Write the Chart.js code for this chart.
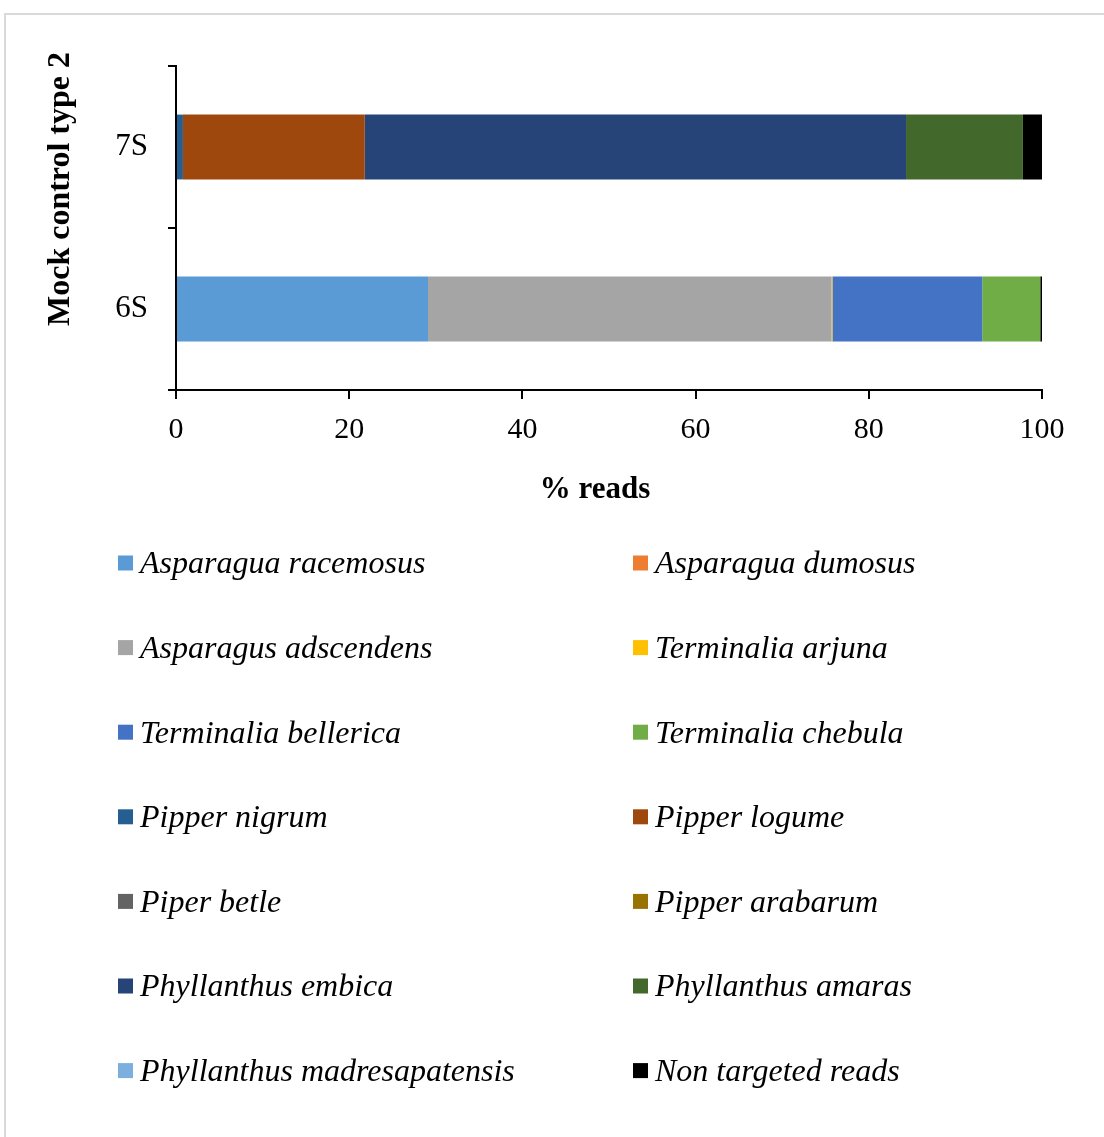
<!DOCTYPE html>
<html>
<head>
<meta charset="utf-8">
<script src="https://cdn.jsdelivr.net/npm/chart.js@4.4.1/dist/chart.umd.min.js"></script>
<style>
  html, body { margin: 0; padding: 0; background: #fff; }
  #wrap { position: relative; width: 1104px; height: 1137px; overflow: hidden; }
  #frame { position: absolute; left: 4px; top: 13px; width: 1200px; height: 1200px;
           border-left: 2px solid #d9d9d9; border-top: 2px solid #d9d9d9; box-sizing: border-box; }
  canvas { position: absolute; left: 0; top: 0; }
</style>
</head>
<body>
<div id="wrap">
  <div id="frame"></div>
  <canvas id="chart" width="1104" height="1137"></canvas>
</div>
<script>
// Samples (top to bottom)
const samples = ['7S', '6S'];

// Species in legend order, with their colours
const speciesNames = [
  'Asparagua racemosus', 'Asparagua dumosus',
  'Asparagus adscendens', 'Terminalia arjuna',
  'Terminalia bellerica', 'Terminalia chebula',
  'Pipper nigrum', 'Pipper logume',
  'Piper betle', 'Pipper arabarum',
  'Phyllanthus embica', 'Phyllanthus amaras',
  'Phyllanthus madresapatensis', 'Non targeted reads'
];
const speciesColors = [
  '#5B9BD5', '#ED7D31',
  '#A5A5A5', '#FFC000',
  '#4472C4', '#70AD47',
  '#255E91', '#9E480E',
  '#636363', '#997300',
  '#264478', '#43682B',
  '#7CAFDD', '#000000'
];

// % reads per species for each sample
const reads7S = [0, 0, 0, 0, 0, 0, 0.8, 21.0, 0, 0, 62.5, 13.5, 0, 2.2];
const reads6S = [29.1, 0, 46.6, 0.1, 17.3, 6.7, 0, 0, 0, 0, 0, 0, 0, 0.2];

const xTicks = [0, 20, 40, 60, 80, 100];
const yTitle = 'Mock control type 2';
const xTitle = '% reads';

const SERIF = '"Liberation Serif", "Times New Roman", serif';

const datasets = speciesNames.map((name, i) => ({
  label: name,
  data: [reads7S[i], reads6S[i]],
  backgroundColor: speciesColors[i],
  borderWidth: 0,
  barPercentage: 1.0,
  categoryPercentage: 0.4
}));

// Axis titles and two-column legend drawn on the canvas
const decorations = {
  id: 'decorations',
  afterDraw(chart) {
    const ctx = chart.ctx;
    ctx.save();
    ctx.fillStyle = '#000';
    // y title
    ctx.font = 'bold 32px ' + SERIF;
    ctx.textAlign = 'center';
    ctx.textBaseline = 'middle';
    ctx.save();
    ctx.translate(61, 189);
    ctx.rotate(-Math.PI / 2);
    ctx.fillText(yTitle, 0, 0);
    ctx.restore();
    // x title
    ctx.font = 'bold 31px ' + SERIF;
    ctx.fillText(xTitle, 595, 490);

    // legend
    ctx.font = 'italic 32px ' + SERIF;
    ctx.textAlign = 'left';
    const colX = [118, 633];
    const rowY0 = 563, rowStep = 84.6;
    chart.data.datasets.forEach((ds, i) => {
      const col = i % 2, row = Math.floor(i / 2);
      const x = colX[col], y = rowY0 + row * rowStep;
      ctx.fillStyle = ds.backgroundColor;
      ctx.fillRect(x, y - 7.5, 15, 15);
      ctx.fillStyle = '#000';
      ctx.fillText(ds.label, x + 22, y + 2);
    });
    ctx.restore();
  }
};

new Chart(document.getElementById('chart'), {
  type: 'bar',
  data: { labels: samples, datasets },
  options: {
    indexAxis: 'y',
    responsive: false,
    animation: false,
    devicePixelRatio: 1,
    layout: { padding: { top: 66, left: 0, right: 62, bottom: 687 } },
    plugins: { legend: { display: false }, tooltip: { enabled: false } },
    scales: {
      x: {
        stacked: true,
        min: 0, max: 100,
        afterBuildTicks: s => { s.ticks = xTicks.map(v => ({ value: v })); },
        afterFit: s => { s.height = 60; },
        grid: { drawOnChartArea: false, drawTicks: true, tickLength: 9, color: '#000', lineWidth: 2 },
        border: { display: true, color: '#000', width: 2 },
        ticks: { color: '#000', font: { family: SERIF, size: 30 }, padding: 13, maxRotation: 0 }
      },
      y: {
        stacked: true,
        afterFit: s => { s.width = 176; },
        grid: { drawOnChartArea: false, drawTicks: true, tickLength: 8, color: '#000', lineWidth: 2, offset: true },
        border: { display: true, color: '#000', width: 2 },
        ticks: { color: '#000', font: { family: SERIF, size: 31 }, padding: 20 }
      }
    }
  },
  plugins: [decorations]
});
</script>
</body>
</html>
